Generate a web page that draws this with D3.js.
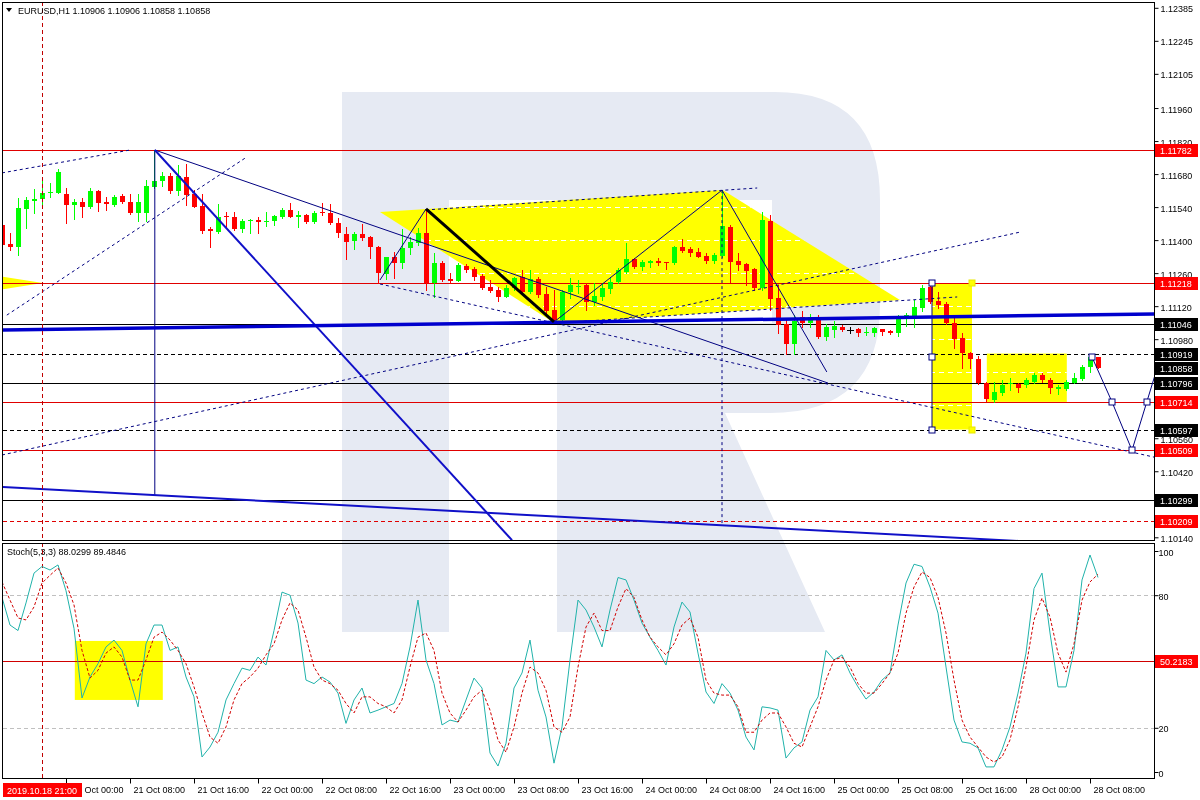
<!DOCTYPE html>
<html><head><meta charset="utf-8">
<script src="https://cdn.jsdelivr.net/npm/d3@7/dist/d3.min.js"></script>
<style>
html,body{margin:0;padding:0;background:#fff;}
svg text{font-family:"Liberation Sans",Arial,sans-serif;font-size:9px;}
</style></head><body>
<svg id="c" width="1200" height="800"></svg>
<script>
// ---------- DATA ----------
const symbolTitle = "EURUSD,H1  1.10906 1.10906 1.10858 1.10858";
const stochTitle = "Stoch(5,3,3) 88.0299 89.4846";
const firstBar = -8; // bar index of first candle (21 Oct 00:00 = 0)
const opens = [1.11464,1.11383,1.11371,1.11532,1.11566,1.11574,1.11600,1.11600,
1.11595,1.11549,1.11561,1.11540,1.11608,1.11561,1.11549,1.11587,1.11561,1.11515,1.11515,1.11625,1.11651,1.11672,1.11608,1.11668,1.11595,1.11545,1.11447,1.11434,1.11502,1.11498,1.11447,1.11481,1.11485,1.11477,1.11481,1.11498,1.11528,1.11498,1.11506,1.11477,1.11519,1.11515,1.11472,1.11426,1.11396,1.11426,1.11413,1.11371,1.11256,1.11328,
1.11303,1.11367,1.11388,1.11430,1.11218,1.11303,1.11235,1.11227,1.11290,1.11277,1.11248,1.11201,1.11188,1.11159,1.11197,1.11244,1.11180,1.11235,1.11171,1.11104,1.11061,1.11180,1.11201,1.11210,1.11138,1.11159,1.11193,1.11222,1.11265,1.11320,1.11286,1.11303,1.11311,1.11307,1.11303,1.11371,1.11362,1.11350,1.11333,1.11311,1.11333,1.11456,1.11311,1.11299,1.11277,1.11197,1.11481,1.11155,1.11044,1.10959,
1.11074,1.11048,1.11074,1.10989,1.11019,1.11031,1.11019,1.11023,1.11006,1.11006,1.11023,1.11015,1.11006,1.11070,1.11074,1.11112,1.11201,1.11142,1.11129,1.11048,1.10987,1.10921,1.10896,1.10794,1.10722,1.10752,1.10790,1.10790,1.10786,1.10798,1.10828,1.10806,1.10769,1.10769,1.10794,1.10811,1.10862,1.10906];
const highs = [1.11515,1.11430,1.11578,1.11583,1.11617,1.11655,1.11642,1.11701,
1.11621,1.11574,1.11578,1.11621,1.11612,1.11583,1.11591,1.11595,1.11595,1.11595,1.11655,1.11782,1.11689,1.11685,1.11718,1.11723,1.11612,1.11595,1.11456,1.11553,1.11519,1.11519,1.11489,1.11489,1.11498,1.11519,1.11506,1.11536,1.11557,1.11523,1.11511,1.11523,1.11557,1.11553,1.11494,1.11456,1.11434,1.11468,1.11417,1.11375,1.11328,1.11350,
1.11447,1.11413,1.11451,1.11532,1.11345,1.11310,1.11260,1.11303,1.11299,1.11286,1.11256,1.11231,1.11201,1.11210,1.11244,1.11273,1.11273,1.11244,1.11201,1.11188,1.11188,1.11239,1.11231,1.11218,1.11218,1.11218,1.11244,1.11282,1.11388,1.11324,1.11315,1.11315,1.11324,1.11307,1.11375,1.11405,1.11371,1.11367,1.11345,1.11345,1.11612,1.11464,1.11345,1.11303,1.11282,1.11519,1.11506,1.11210,1.11061,1.11082,
1.11099,1.11087,1.11082,1.11044,1.11057,1.11040,1.11031,1.11027,1.11031,1.11031,1.11023,1.11019,1.11082,1.11091,1.11146,1.11210,1.11218,1.11180,1.11138,1.11082,1.11006,1.10926,1.10909,1.10798,1.10798,1.10806,1.10815,1.10794,1.10815,1.10837,1.10837,1.10815,1.10786,1.10806,1.10837,1.10870,1.10913,1.10906];
const lows = [1.11358,1.11358,1.11337,1.11451,1.11515,1.11540,1.11583,1.11600,
1.11472,1.11489,1.11498,1.11536,1.11523,1.11528,1.11545,1.11557,1.11511,1.11481,1.11481,1.11621,1.11629,1.11600,1.11591,1.11549,1.11540,1.11430,1.11371,1.11430,1.11451,1.11443,1.11434,1.11430,1.11430,1.11460,1.11464,1.11494,1.11498,1.11456,1.11472,1.11472,1.11506,1.11468,1.11413,1.11320,1.11362,1.11400,1.11324,1.11218,1.11235,1.11239,
1.11282,1.11341,1.11379,1.11188,1.11159,1.11225,1.11218,1.11227,1.11265,1.11231,1.11193,1.11180,1.11142,1.11159,1.11188,1.11176,1.11176,1.11159,1.11091,1.11053,1.11057,1.11155,1.11176,1.11104,1.11125,1.11146,1.11176,1.11218,1.11260,1.11282,1.11273,1.11286,1.11294,1.11277,1.11299,1.11350,1.11333,1.11328,1.11303,1.11303,1.11328,1.11222,1.11273,1.11210,1.11188,1.11188,1.11104,1.11006,1.10917,1.10917,
1.11031,1.11031,1.10987,1.10976,1.10989,1.11015,1.11006,1.10993,1.10998,1.10993,1.10998,1.11002,1.10993,1.11036,1.11031,1.11099,1.11133,1.11112,1.11044,1.10943,1.10858,1.10858,1.10790,1.10718,1.10714,1.10743,1.10764,1.10756,1.10777,1.10794,1.10798,1.10752,1.10747,1.10764,1.10794,1.10806,1.10841,1.10858];
const closes = [1.11379,1.11371,1.11536,1.11570,1.11574,1.11600,1.11604,1.11689,
1.11549,1.11561,1.11540,1.11608,1.11557,1.11553,1.11583,1.11561,1.11515,1.11561,1.11629,1.11651,1.11672,1.11608,1.11672,1.11591,1.11540,1.11439,1.11439,1.11498,1.11498,1.11447,1.11481,1.11485,1.11477,1.11481,1.11502,1.11528,1.11498,1.11506,1.11477,1.11515,1.11515,1.11472,1.11430,1.11392,1.11426,1.11409,1.11371,1.11260,1.11328,1.11303,
1.11367,1.11392,1.11430,1.11218,1.11303,1.11231,1.11227,1.11294,1.11273,1.11244,1.11197,1.11184,1.11159,1.11197,1.11239,1.11180,1.11235,1.11167,1.11099,1.11061,1.11180,1.11210,1.11205,1.11138,1.11163,1.11197,1.11222,1.11273,1.11320,1.11286,1.11307,1.11311,1.11303,1.11303,1.11371,1.11354,1.11345,1.11328,1.11311,1.11337,1.11460,1.11307,1.11294,1.11269,1.11197,1.11485,1.11150,1.11040,1.10959,1.11057,
1.11048,1.11074,1.10989,1.11031,1.11036,1.11019,1.11019,1.11006,1.11010,1.11027,1.11010,1.11006,1.11074,1.11082,1.11116,1.11197,1.11138,1.11125,1.11048,1.10981,1.10921,1.10896,1.10794,1.10726,1.10756,1.10786,1.10794,1.10773,1.10806,1.10828,1.10806,1.10773,1.10777,1.10798,1.10815,1.10862,1.10904,1.10858];
const stochMain = [79,66.5,64,76.5,90,93,91.4,93.7,
82,65,33.5,43,49,56.6,59.7,55,41.6,29.5,58,66.5,66.5,55,56.6,43,34,6.8,11.3,18,32.6,40,47,46,52,48.4,64,81.4,80,67.4,41.6,40,43,40.7,35.7,22,32.6,38,26.7,28,29.5,31,
40,56.6,77.8,50.7,40,21.3,23.5,22.6,32.6,42.5,38,8.6,2.7,13,38,44.8,59.7,37,24.9,4,20.4,50.7,77.8,73.3,65.6,56.6,73.3,88,86.9,77.8,67.4,61,55,48.4,65.6,76.9,72.4,53.8,36.2,31,40,35.7,28,15.8,10,29.5,29,28,6.3,10.9,
13.6,28,34,55,50.7,53,44.8,38.5,33,36.2,41.6,44.8,66.5,85.5,94,93,83.7,71.9,47.5,23.5,13.6,13,10.9,2.3,2.3,10,20.4,35.7,53.8,83,90,62.9,38.5,38.5,55,86.9,98.2,88.03];
const stochSignal = [86,77.8,69.7,68.8,74.7,85.5,89,92.3,
85.5,75.6,55,42.5,46,53.8,56.6,52,41.6,41.6,50.7,61,63.3,59.7,55,49,38.5,26.7,15.8,13,20.4,32.6,40,43,47,53,58,68.8,76.5,73.3,61,47.5,41.6,40,37,31,26.7,34,34,31,29.5,26.7,
32.6,47.5,61,62.9,55,35.7,26.7,22.6,28,34,37,28,14.5,9,20.4,35.7,47.5,44.8,37,20.4,18,24.9,47.5,65.6,71.9,64,64,74.7,83,79,68.8,61,56.6,53,58,66.5,69.7,61,41.6,35.7,34.8,34.8,29.5,18,18,23.5,26.7,26.7,20.4,13,
11.3,20.4,29.5,41.6,50.7,52,47.5,40,35.7,35.7,40,44.8,53.8,71.9,83.7,90.5,88,79,62.9,41.6,23.5,15.8,11.3,6.8,4.5,6.8,14.5,29.5,47.5,68.8,78.7,70.1,53.8,45.2,58,77.8,86,89.48];

const timeTickBars = [0,8,16,24,32,40,48,56,64,72,80,88,96,104,112,120,128];
const timeTickLabels = ["21 Oct 00:00","21 Oct 08:00","21 Oct 16:00","22 Oct 00:00","22 Oct 08:00","22 Oct 16:00","23 Oct 00:00","23 Oct 08:00","23 Oct 16:00","24 Oct 00:00","24 Oct 08:00","24 Oct 16:00","25 Oct 00:00","25 Oct 08:00","25 Oct 16:00","28 Oct 00:00","28 Oct 08:00"];
const markerBar = -3;
const markerLabel = "2019.10.18 21:00";
const priceTicks = [1.12385,1.12245,1.12105,1.11960,1.11820,1.11680,1.11540,1.11400,1.11260,1.11120,1.10980,1.10840,1.10700,1.10560,1.10420,1.10280,1.10140];
const stochTicks = [100,80,20,0];
const stochLevels = [80,20];
const stochRedLevel = 50.2183;

const redLevels = [1.11782,1.11218,1.10714,1.10509];
const redDashedLevels = [1.10209];
const blackLevels = [1.11046,1.10796,1.10299];
const blackDashedLevels = [1.10919,1.10597];
const currentPrice = 1.10858;

// trend objects: [bar, price] pairs
const blueThickLines = [[[-8,1.11019],[136,1.11087]]];
const blueMediumLines = [[[11.1,1.11782],[55.75,1.10128]],[[-8,1.10353],[119.25,1.10124]]];
const blackThickLines = [[[45,1.11532],[61,1.11053]]];
const navySolidLines = [
  [[11.1,1.11782],[95.25,1.10794]],
  [[11.1,1.11782],[11.1,1.10319]],
  [[39.25,1.11231],[45,1.11532]],
  [[61,1.11053],[82,1.11612]],
  [[82,1.11612],[95.1,1.10841]],
  [[108.25,1.11218],[108.25,1.10597]],
  [[128.25,1.10904],[130.75,1.10714],[133.25,1.10509],[135.1,1.10714],[137,1.10925]]
];
const navyDashedLines = [
  [[-8,1.11685],[8,1.11782]],
  [[-7.4,1.11082],[22.4,1.11748]],
  [[39.25,1.11214],[136,1.10480]],
  [[-8,1.10489],[119.25,1.11434]],
  [[82,1.11612],[82,1.10200]],
  [[61,1.11048],[111.4,1.11159]],
  [[45,1.11528],[86.4,1.11621]]
];
const navyMarkers = [[108.25,1.11218],[108.25,1.10904],[108.25,1.10597],[128.25,1.10904],[130.75,1.10714],[133.25,1.10509],[135.1,1.10714]];
const yellowMarkers = [[113.25,1.11218],[113.25,1.10597]];
const yellowPolygons = [
  [[39.25,1.11519],[82.1,1.11612],[104.25,1.11146],[61.1,1.11048]],
  [[-10,1.11256],[-2.9,1.11218],[-10,1.11180]]
];
const yellowRects = [[108.25,113.25,1.11218,1.10597],[115.1,125.1,1.10919,1.10714]];
const stochYellowRects = [[1.1,12.1,59.3,32.6]];

// ---------- LAYOUT ----------
const L = 3, R = 1155, mainTop = 2, mainBot = 540, stTop = 543, stBot = 778;
const x = d3.scaleLinear().domain([-8,136]).range([2,1154]);
const y = d3.scaleLinear().domain([1.10140,1.12385]).range([537.3,7.8]);
const ys = d3.scaleLinear().domain([0,100]).range([772,551]);
const svg = d3.select('#c');
const defs = svg.append('defs');
defs.append('clipPath').attr('id','cm').append('rect').attr('x',L).attr('y',mainTop).attr('width',R-L).attr('height',mainBot-mainTop);
defs.append('clipPath').attr('id','cs').append('rect').attr('x',L).attr('y',stTop).attr('width',R-L).attr('height',stBot-stTop);

svg.append('rect').attr('width',1200).attr('height',800).attr('fill','#fff');

// watermark "R" (decoration)
svg.append('path').attr('fill','#e6eaf3')
  .attr('d','M342,92 L775,92 Q880,92 880,200 L880,305 Q880,413 770,413 L725,413 L825,632 L557,632 L557,323 L772,323 L772,200 L449,200 L449,632 L342,632 Z');

const line = d3.line().x(d=>x(d[0])).y(d=>y(d[1]));
const lineS = d3.line().x(d=>x(d[0])).y(d=>ys(d[1]));

// ---------- MAIN PANEL ----------
const gm = svg.append('g').attr('clip-path','url(#cm)');
const yel = gm.append('g').style('mix-blend-mode','multiply');
yel.selectAll('path.yp').data(yellowPolygons).join('path')
  .attr('d',d=>line(d)+'Z').attr('fill','#ffff00');
yel.selectAll('rect.yr').data(yellowRects).join('rect')
  .attr('x',d=>x(d[0])).attr('width',d=>x(d[1])-x(d[0]))
  .attr('y',d=>y(d[2])).attr('height',d=>y(d[3])-y(d[2])).attr('fill','#ffff00');
// white grid visible only inside yellow objects
const cy = defs.append('clipPath').attr('id','cy');
yellowPolygons.forEach(p=>cy.append('path').attr('d',line(p)+'Z'));
yellowRects.forEach(d=>cy.append('rect').attr('x',x(d[0])).attr('width',x(d[1])-x(d[0])).attr('y',y(d[2])).attr('height',y(d[3])-y(d[2])));
gm.append('g').attr('clip-path','url(#cy)').selectAll('line').data(priceTicks).join('line')
  .attr('x1',L).attr('x2',R).attr('y1',d=>Math.round(y(d))+0.5).attr('y2',d=>Math.round(y(d))+0.5)
  .attr('stroke','#fff').attr('stroke-dasharray','5,4');

// horizontal levels
function hl(arr,color,dash){
  gm.append('g').selectAll('line').data(arr).join('line')
    .attr('x1',L).attr('x2',R).attr('y1',d=>Math.round(y(d))+0.5).attr('y2',d=>Math.round(y(d))+0.5)
    .attr('stroke',color).attr('stroke-width',1).attr('stroke-dasharray',dash);
}
hl(redLevels,'#e00000',null);
hl(redDashedLevels,'#e00000','4,3');
hl(blackLevels,'#000',null);
hl(blackDashedLevels,'#000','4,3');

// vertical dashed marker line (both panels)
[[mainTop,mainBot],[stTop,stBot]].forEach(r=>{
  svg.append('line').attr('x1',Math.round(x(markerBar))+0.5).attr('x2',Math.round(x(markerBar))+0.5)
   .attr('y1',r[0]).attr('y2',r[1]).attr('stroke','#c00000').attr('stroke-dasharray','4,3');
});

// candles
const bars = d3.range(opens.length).map(i=>({i:firstBar+i,o:opens[i],h:highs[i],l:lows[i],c:closes[i]}));
const col = d=> d.c>d.o ? '#00ff00' : (d.c<d.o ? '#ff0000' : '#000');
const cg = gm.append('g');
cg.selectAll('line.w').data(bars).join('line')
  .attr('x1',d=>Math.round(x(d.i))+0.5).attr('x2',d=>Math.round(x(d.i))+0.5)
  .attr('y1',d=>Math.round(y(d.h))).attr('y2',d=>Math.round(y(d.l))+1)
  .attr('stroke',col).attr('stroke-width',1);
cg.selectAll('rect.b').data(bars).join('rect')
  .attr('x',d=>Math.round(x(d.i))-2).attr('width',d=>d.c===d.o?0:5)
  .attr('y',d=>Math.round(y(Math.max(d.o,d.c))))
  .attr('height',d=>Math.max(1,Math.round(y(Math.min(d.o,d.c)))-Math.round(y(Math.max(d.o,d.c)))))
  .attr('fill',col);
cg.selectAll('line.dj').data(bars.filter(d=>d.c===d.o)).join('line')
  .attr('x1',d=>Math.round(x(d.i))-3).attr('x2',d=>Math.round(x(d.i))+4)
  .attr('y1',d=>Math.round(y(d.c))+0.5).attr('y2',d=>Math.round(y(d.c))+0.5).attr('stroke','#000');

// trend lines
function tl(arr,color,w,dash){
  gm.append('g').selectAll('path').data(arr).join('path').attr('d',line)
   .attr('fill','none').attr('stroke',color).attr('stroke-width',w).attr('stroke-dasharray',dash);
}
tl(navyDashedLines,'#000080',1,'3,3');
tl(navySolidLines,'#000080',1,null);
tl(blueMediumLines,'#1010c8',2,null);
tl(blueThickLines,'#0000cd',3.5,null);
tl(blackThickLines,'#000',3,null);
gm.append('g').selectAll('rect').data(navyMarkers).join('rect')
  .attr('x',d=>Math.round(x(d[0]))-3).attr('y',d=>Math.round(y(d[1]))-3).attr('width',6).attr('height',6)
  .attr('fill','#fff').attr('stroke','#000080');
gm.append('g').selectAll('rect').data(yellowMarkers).join('rect')
  .attr('x',d=>Math.round(x(d[0]))-3).attr('y',d=>Math.round(y(d[1]))-3).attr('width',6).attr('height',6)
  .attr('fill','#ffff00').attr('stroke','#e8e800');

// ---------- STOCH PANEL ----------
const gs = svg.append('g').attr('clip-path','url(#cs)');
gs.append('g').style('mix-blend-mode','multiply').selectAll('rect').data(stochYellowRects).join('rect')
  .attr('x',d=>x(d[0])).attr('width',d=>x(d[1])-x(d[0]))
  .attr('y',d=>ys(d[2])).attr('height',d=>ys(d[3])-ys(d[2])).attr('fill','#ffff00');
gs.selectAll('line.lv').data(stochLevels).join('line')
  .attr('x1',L).attr('x2',R).attr('y1',d=>Math.round(ys(d))+0.5).attr('y2',d=>Math.round(ys(d))+0.5)
  .attr('stroke','#c0c0c0').attr('stroke-dasharray','4,3');
gs.append('line').attr('x1',L).attr('x2',R).attr('y1',Math.round(ys(stochRedLevel))+0.5).attr('y2',Math.round(ys(stochRedLevel))+0.5)
  .attr('stroke','#d00000');
gs.append('path').datum(stochMain.map((v,i)=>[firstBar+i,v])).attr('d',lineS)
  .attr('fill','none').attr('stroke','#20b2aa').attr('stroke-width',1);
gs.append('path').datum(stochSignal.map((v,i)=>[firstBar+i,v])).attr('d',lineS)
  .attr('fill','none').attr('stroke','#d00000').attr('stroke-width',1).attr('stroke-dasharray','3,2');

// ---------- FRAMES ----------
svg.append('rect').attr('x',L-0.5).attr('y',mainTop+0.5).attr('width',R-L).attr('height',mainBot-mainTop).attr('fill','none').attr('stroke','#000');
svg.append('rect').attr('x',L-0.5).attr('y',stTop+0.5).attr('width',R-L).attr('height',stBot-stTop).attr('fill','none').attr('stroke','#000');

// ---------- AXES ----------
const tagPrices = redLevels.concat(redDashedLevels, blackLevels, blackDashedLevels, [currentPrice]);
const freeTicks = priceTicks.filter(t => tagPrices.every(p => Math.abs(y(p) - y(t)) >= 8.5));
const ax = svg.append('g').attr('transform',`translate(${R-0.5},0)`)
  .call(d3.axisRight(y).tickValues(priceTicks).tickSize(4).tickFormat(d => freeTicks.includes(d) ? d3.format('.5f')(d) : ''));
ax.select('.domain').remove();
ax.selectAll('text').attr('x',6).attr('dy','0.45em').attr('font-size',9).attr('font-family','"Liberation Sans",Arial,sans-serif').attr('fill','#000');

const axs = svg.append('g').attr('transform',`translate(${R-0.5},0)`)
  .call(d3.axisRight(ys).tickValues(stochTicks).tickSize(4).tickFormat(d3.format('d')));
axs.select('.domain').remove();
axs.selectAll('text').attr('x',4).attr('dy','0.45em').attr('font-size',9).attr('font-family','"Liberation Sans",Arial,sans-serif').attr('fill','#000');

// time axis: labels that start under the date marker box show only their visible part
const markerBoxRight = 82;
const axb = svg.append('g').attr('transform',`translate(0,${stBot+0.5})`)
  .call(d3.axisBottom(x).tickValues(timeTickBars).tickSize(5).tickFormat((d,i)=>timeTickLabels[i]));
axb.select('.domain').remove();
axb.selectAll('text').attr('text-anchor','start').attr('x',3).attr('y',8).attr('dy','0.71em').attr('font-size',9)
  .attr('font-family','"Liberation Sans",Arial,sans-serif').attr('fill','#000')
  .each(function(d){
    const sx = x(d) + 3;
    if (sx < markerBoxRight) {
      const parts = this.textContent.split(' ');
      this.textContent = parts.slice(1).join(' ');
      d3.select(this).attr('x', markerBoxRight + 2 - x(d));
    }
  });

// price label boxes
function tag(price,bg,scale,txt){
  const yy = Math.round(scale(price));
  svg.append('rect').attr('x',R).attr('y',yy-6).attr('width',43).attr('height',13).attr('fill',bg);
  svg.append('text').attr('x',R+5).attr('y',yy+4).attr('fill','#fff').text(txt);
}
redLevels.concat(redDashedLevels).forEach(p=>tag(p,'#ff0000',y,d3.format('.5f')(p)));
blackLevels.concat(blackDashedLevels,[currentPrice]).forEach(p=>tag(p,'#000',y,d3.format('.5f')(p)));
tag(stochRedLevel,'#ff0000',ys,d3.format('.4f')(stochRedLevel));

// date marker label
svg.append('rect').attr('x',L).attr('y',783).attr('width',markerBoxRight-L).attr('height',14).attr('fill','#ff0000');
svg.append('text').attr('x',L+4).attr('y',794).attr('fill','#fff').text(markerLabel);

// titles
svg.append('path').attr('d','M6,8 L12,8 L9,12 Z').attr('fill','#000');
svg.append('text').attr('x',18).attr('y',14).attr('fill','#000').text(symbolTitle);
svg.append('text').attr('x',7).attr('y',555).attr('fill','#000').text(stochTitle);
</script>
</body></html>
